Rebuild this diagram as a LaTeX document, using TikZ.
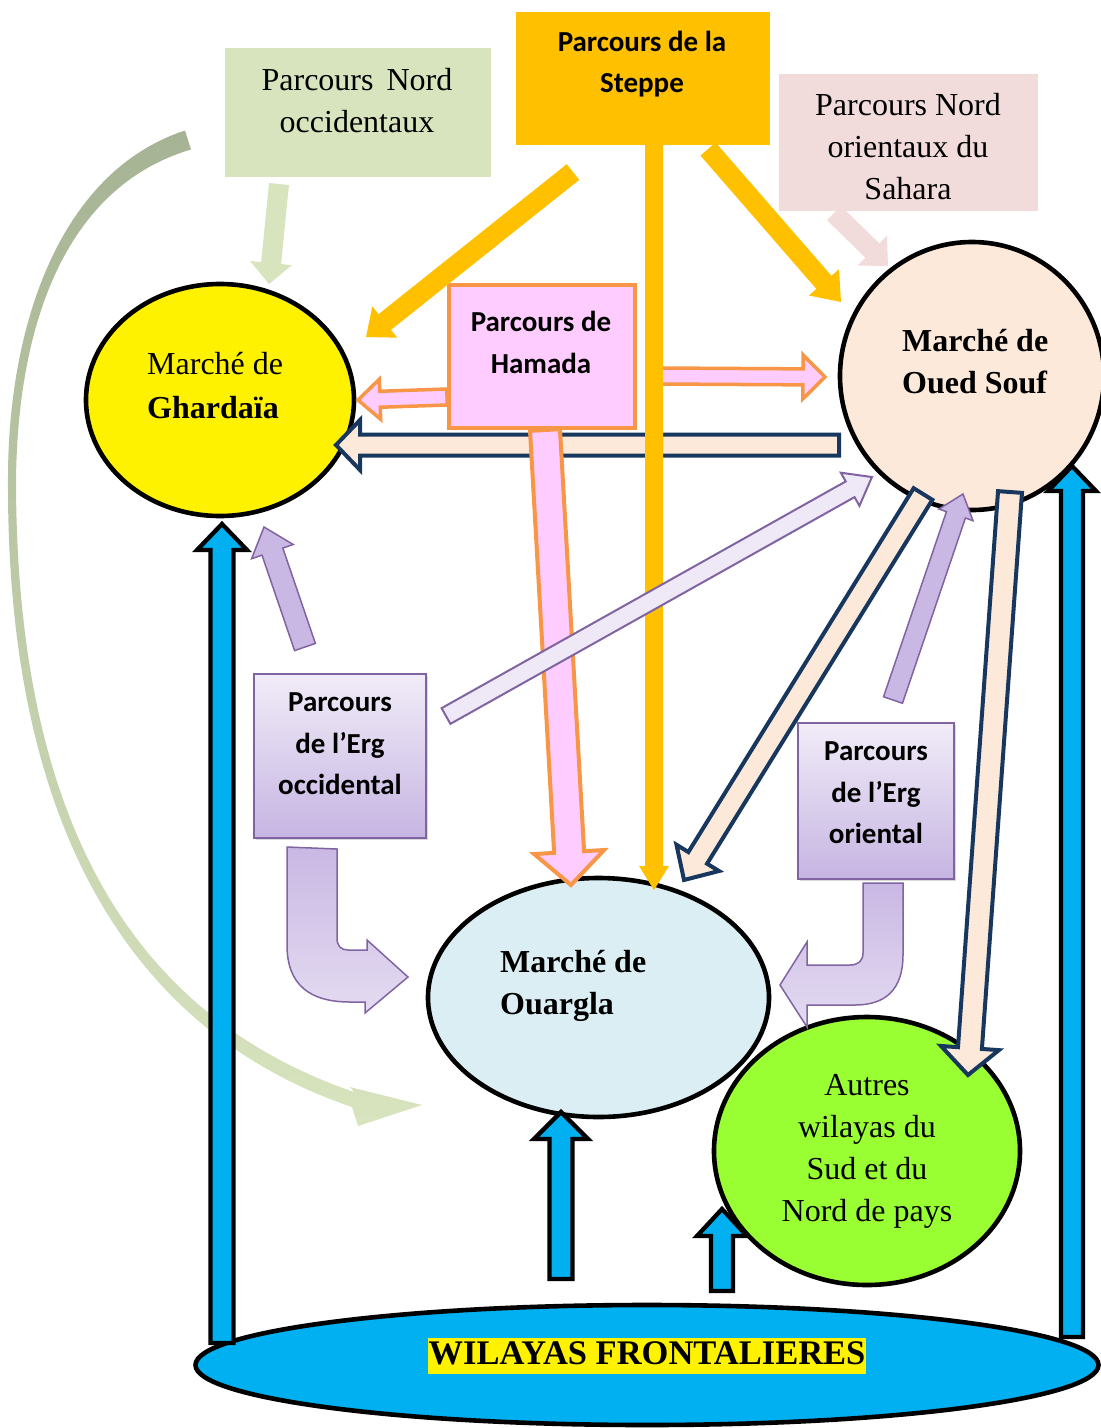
\documentclass[tikz,border=0pt]{standalone}
\usepackage{fontspec}
\setmainfont{Liberation Serif}
\newfontfamily\calib{Carlito}
\usetikzlibrary{shapes.geometric,calc,shadows}

\definecolor{nocc}{HTML}{D7E4BD}
\definecolor{steppe}{HTML}{FFC000}
\definecolor{nori}{HTML}{F2DCDB}
\definecolor{hamfill}{HTML}{FFCCFF}
\definecolor{hamline}{HTML}{F79646}
\definecolor{peach}{HTML}{FDE9D9}
\definecolor{navy}{HTML}{17375E}
\definecolor{ouarg}{HTML}{DAEEF3}
\definecolor{autres}{HTML}{99FF33}
\definecolor{frontb}{HTML}{00B0F0}
\definecolor{ergline}{HTML}{8064A2}
\definecolor{ergtop}{HTML}{F1ECF8}
\definecolor{ergbot}{HTML}{C6B5E2}
\definecolor{ergarrow}{HTML}{C9B8E4}
\definecolor{ergarrowlight}{HTML}{E4DBF1}
\definecolor{lav}{HTML}{EFE9F7}
\definecolor{sagedark}{HTML}{A6B394}
\definecolor{sagelight}{HTML}{D8E4BE}

% block arrow: [style]{from}{to}{shaft half width}{head half width}{head length}
\newcommand\barrow[6][]{%
  \path[#1] let \p1=(#2), \p2=(#3),
    \n1={atan2(\y2-\y1,\x2-\x1)}, \n2={veclen(\x2-\x1,\y2-\y1)} in
    [shift={(\p1)}, rotate=\n1]
    (0pt,#4pt) -- ({\n2-#6pt},#4pt) -- ({\n2-#6pt},#5pt) -- (\n2,0pt)
    -- ({\n2-#6pt},-#5pt) -- ({\n2-#6pt},-#4pt) -- (0pt,-#4pt) -- cycle;}

\tikzset{
  boxnode/.style={rectangle, inner sep=0pt, draw=none},
  mkt/.style={ellipse, inner sep=0pt, draw=black, line width=4.6pt},
  serift/.style={inner sep=0pt, align=center, font=\fontsize{32}{42}\selectfont},
  sanst/.style={inner sep=0pt, align=center, font=\calib\bfseries\fontsize{29}{41.5}\selectfont},
  hamarrow/.style={fill=hamfill, draw=hamline, line width=3.5pt},
  navyarrow/.style={fill=peach, draw=navy, line width=4pt},
  purparrow/.style={fill=ergarrow, draw=ergline, line width=1.5pt},
  lavarrow/.style={fill=lav, draw=ergline, line width=2pt},
  bluearrow/.style={fill=frontb, draw=black, line width=4.3pt},
  ergbox/.style={rectangle, inner sep=0pt, draw=ergline, line width=2pt,
     top color=ergtop, bottom color=ergbot,
     drop shadow={opacity=0.3, shadow xshift=2pt, shadow yshift=-2pt}},
  lturn/.style={draw=ergline, line width=1.5pt, top color=ergarrow, bottom color=ergarrowlight}
}

\begin{document}
\begin{tikzpicture}[x=1pt,y=-1pt,line join=miter]
\useasboundingbox (0,0) rectangle (1101,1428);

% big curved arrow (Nord occidentaux -> Ouargla)
\path[top color=sagedark, bottom color=sagelight]
  (185,130.5) .. controls (57.6,172.4) and (7,330) .. (8,483)
  .. controls (7,850) and (147.4,1037.6) .. (352,1107)
  -- (358,1126) -- (422,1105) -- (350,1087) -- (354,1092)
  .. controls (152.6,1022.4) and (17,850) .. (16,483)
  .. controls (17,330) and (62.4,187.6) .. (191,149.5) -- cycle;

% top boxes
\node[boxnode, fill=nocc, minimum width=266pt, minimum height=129pt] (noc) at (358,112.5) {};
\node[boxnode, fill=steppe, minimum width=254pt, minimum height=133pt] (stp) at (643,78.5) {};
\node[boxnode, fill=nori, minimum width=259pt, minimum height=137pt] (nor) at (908.5,142.5) {};

% markets
\node[mkt, fill=yellow, minimum width=268pt, minimum height=232pt] (ghar) at (220,400) {};
\node[mkt, fill=peach, minimum width=264pt, minimum height=268pt] (oued) at (972,376) {};
\node[mkt, fill=ouarg, minimum width=341pt, minimum height=239pt] (ouar) at (598.5,997.5) {};

\coordinate (U1) at (722,1291); \coordinate (U2) at (722,1209);
\barrow[bluearrow]{U1}{U2}{11}{25}{27}
\node[mkt, fill=autres, minimum width=306pt, minimum height=268pt] (autr) at (867,1151) {};

\node[mkt, fill=frontb, minimum width=903pt, minimum height=120pt] (front) at (647,1365) {};
\node[inner xsep=1pt, inner ysep=0pt, fill=yellow, text height=27pt, text depth=9pt,
      font=\bfseries\fontsize{34.5}{40}\selectfont] (tfront) at (647,1355.5) {WILAYAS FRONTALIERES};

% Hamada box
\node[boxnode, fill=hamfill, draw=hamline, line width=4pt, minimum width=186pt, minimum height=143pt] (ham) at (542,356.5) {};

% arrows from the top boxes
\coordinate (A1) at (279,184); \coordinate (A2) at (269,284);
\barrow[fill=nocc]{A1}{A2}{10}{21}{21}
\coordinate (B1) at (573,172); \coordinate (B2) at (366,337);
\barrow[fill=steppe]{B1}{B2}{10}{20}{24}
\coordinate (C1) at (708,149); \coordinate (C2) at (841,302);
\barrow[fill=steppe]{C1}{C2}{10}{20}{26}
\coordinate (E1) at (834,213); \coordinate (E2) at (888,266);
\barrow[fill=nori]{E1}{E2}{10}{21}{22}

% Hamada arrows
\coordinate (F1) at (447,397); \coordinate (F2) at (358,400);
\barrow[hamarrow]{F1}{F2}{8}{20}{22}
\coordinate (G1) at (660,376); \coordinate (G2) at (825,377);
\barrow[hamarrow]{G1}{G2}{8}{22}{22}

% Oued Souf -> Ghardaia
\coordinate (H1) at (839,445); \coordinate (H2) at (336,445);
\barrow[navyarrow]{H1}{H2}{10.5}{25}{24}

% Hamada -> Ouargla
\coordinate (I1) at (545,430); \coordinate (I2) at (571,885);
\barrow[hamarrow, line width=4pt]{I1}{I2}{15}{35}{33}

% Steppe -> Ouargla
\coordinate (D1) at (654,145); \coordinate (D2) at (654,890);
\barrow[fill=steppe]{D1}{D2}{9}{15}{24}

% Erg boxes
\node[ergbox, minimum width=172pt, minimum height=164pt] (ergocc) at (340,756) {};
\node[ergbox, minimum width=156pt, minimum height=156pt] (ergori) at (876,801) {};

% Erg occidental -> Ghardaia, Erg oriental -> Oued Souf
\coordinate (J1) at (305,647); \coordinate (J2) at (264,527);
\barrow[purparrow]{J1}{J2}{11}{22}{26}
\coordinate (M1) at (893,700); \coordinate (M2) at (963,494);
\barrow[purparrow]{M1}{M2}{10}{18}{22}

% bent arrows
\path[lturn] (287,847) -- (287,945) .. controls (287,985) and (310,1002) .. (350,1002)
  -- (365,1002) -- (365,1013) -- (408,977) -- (367,940) -- (367,950) -- (348,950)
  .. controls (341,950) and (337,946) .. (337,938) -- (337,849) -- cycle;
\path[lturn] (863,883) -- (903,883) -- (903,955) .. controls (903,990) and (885,1005) .. (855,1005)
  -- (807,1005) -- (807,1027) -- (780,985) -- (807,942) -- (807,965) -- (850,965)
  .. controls (858,965) and (863,961) .. (863,953) -- cycle;

% Oued Souf -> Ouargla, Oued Souf -> Autres
\coordinate (L1) at (923,494); \coordinate (L2) at (684,880);
\barrow[navyarrow]{L1}{L2}{11}{25}{26}
\coordinate (N1) at (1010,492); \coordinate (N2) at (968,1075);
\barrow[navyarrow]{N1}{N2}{12}{29}{27}

% Erg occidental -> Oued Souf
\coordinate (K1) at (446,716); \coordinate (K2) at (872,477);
\barrow[lavarrow]{K1}{K2}{9}{19}{25}

% frontier arrows
\coordinate (R1) at (222,1343); \coordinate (R2) at (222,524);
\barrow[bluearrow]{R1}{R2}{11.5}{25}{26}
\coordinate (S1) at (1072,1337); \coordinate (S2) at (1072,466);
\barrow[bluearrow]{S1}{S2}{11}{24}{25}
\coordinate (T1) at (561,1279); \coordinate (T2) at (561,1112);
\barrow[bluearrow]{T1}{T2}{11.5}{27}{27}

% texts
\node[serift] (tnoc) at (357,101) {Parcours\hspace{13pt}Nord\\occidentaux};
\node[sanst] (tstp) at (642,64) {Parcours de la\\Steppe};
\node[serift] (tnor) at (908,147) {Parcours Nord\\orientaux du\\Sahara};
\node[sanst] (tham) at (541,342.5) {Parcours de\\Hamada};
\node[serift, align=left, anchor=west, font=\fontsize{32}{44}\selectfont] (tghar) at (147,386) {Marché de\\\textbf{Ghardaïa}};
\node[serift, align=left, anchor=west, font=\bfseries\fontsize{32}{42}\selectfont] (toued) at (902,362) {Marché de\\Oued Souf};
\node[serift, align=left, anchor=west, font=\bfseries\fontsize{32}{42}\selectfont] (touar) at (500,986) {Marché de\\Ouargla};
\node[serift] (tautr) at (867,1151) {Autres\\wilayas du\\Sud et du\\Nord de pays};
\node[sanst] (tergo) at (340,744) {Parcours\\de l’Erg\\occidental};
\node[sanst] (tergr) at (876,793) {Parcours\\de l’Erg\\oriental};
\end{tikzpicture}
\end{document}
